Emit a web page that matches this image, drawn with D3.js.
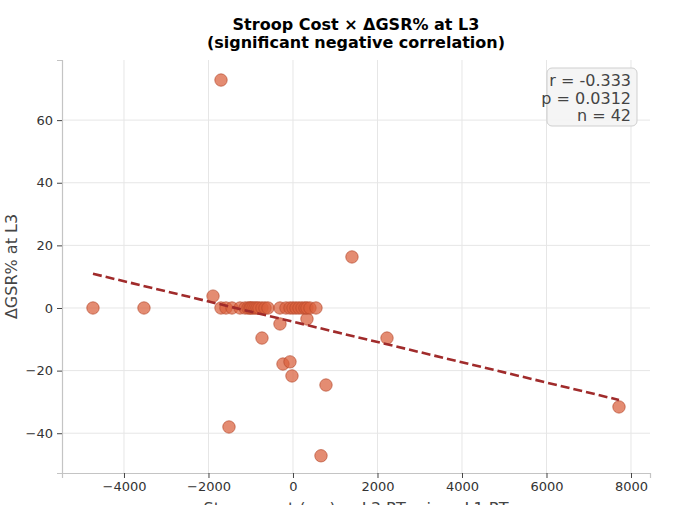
<!DOCTYPE html>
<html>
<head>
<meta charset="utf-8">
<script src="https://cdn.jsdelivr.net/npm/d3@7"></script>
<style>
  body { margin: 0; background: #fff; }
  text { font-family: "DejaVu Sans", sans-serif; }
</style>
</head>
<body>
<script>
// stroop cost (ms) per participant and dGSR% at L3
var stroopCost = [
  -4734, -3527,
  -1893, -1704, -1515, -734, -308, -237, -71, -24, 331, 663, 781, 1396, 2225, 7716,
  -1704, -1586, -1444, -1254, -1136, -1065, -1018, -994, -947, -899, -852, -805, -734, -663, -592,
  -308, -166, -71, 0, 71, 142, 213, 284, 331, 402, 544
];
var gsrChange = [
  0, 0,
  3.8, 72.8, -38, -9.6, -5.1, -17.9, -17.2, -21.7, -3.5, -47.2, -24.6, 16.3, -9.6, -31.6,
  0, 0, 0, 0, 0, 0, 0, 0, 0, 0, 0, 0, 0, 0, 0,
  0, 0, 0, 0, 0, 0, 0, 0, 0, 0, 0
];
var xTicks = [-4000, -2000, 0, 2000, 4000, 6000, 8000];
var yTicks = [-40, -20, 0, 20, 40, 60];
var statLines = ["r = -0.333", "p = 0.0312", "n = 42"];

var data = stroopCost.map(function (d, i) {
    return {x: d, y: gsrChange[i]};
});

var svg = d3.select("body").append("svg").attr("width", 679).attr("height", 505),
    margin = {top: 60, right: 29, bottom: 32, left: 62},
    width = +svg.attr("width") - margin.left - margin.right,
    height = +svg.attr("height") - margin.top - margin.bottom;

var x = d3.scaleLinear().domain([-5467, 8450]).range([0, width]);
var y = d3.scaleLinear().domain([-52.7, 79.2]).range([height, 0]);

var g = svg.append("g")
    .attr("transform", "translate(" + margin.left + "," + margin.top + ")");

// grid
g.selectAll(".vgrid").data(xTicks).enter().append("line")
    .attr("x1", function (d) { return x(d); })
    .attr("x2", function (d) { return x(d); })
    .attr("y1", 0).attr("y2", height)
    .attr("stroke", "#e6e6e6").attr("stroke-width", 1);
g.selectAll(".hgrid").data(yTicks).enter().append("line")
    .attr("y1", function (d) { return y(d); })
    .attr("y2", function (d) { return y(d); })
    .attr("x1", 0).attr("x2", width)
    .attr("stroke", "#e6e6e6").attr("stroke-width", 1);

// axes
var xAxis = g.append("g")
    .attr("transform", "translate(0," + height + ")")
    .call(d3.axisBottom(x).tickValues(xTicks).tickSize(5).tickPadding(4)
        .tickFormat(function (d) { return d3.format("d")(d).replace("-", "\u2212"); }));
var yAxis = g.append("g")
    .call(d3.axisLeft(y).tickValues(yTicks).tickSize(5).tickPadding(4)
        .tickFormat(function (d) { return d3.format("d")(d).replace("-", "\u2212"); }));
[xAxis, yAxis].forEach(function (a) {
    a.select(".domain").attr("stroke", "#c4c4c4").attr("stroke-width", 1.2);
    a.selectAll(".tick line").attr("stroke", "#444");
    a.selectAll(".tick text").attr("fill", "#333").style("font-size", "13px");
});

// regression fit
var mx = d3.mean(data, function (d) { return d.x; }),
    my = d3.mean(data, function (d) { return d.y; });
var sxy = d3.sum(data, function (d) { return (d.x - mx) * (d.y - my); }),
    sxx = d3.sum(data, function (d) { return (d.x - mx) * (d.x - mx); });
var slope = sxy / sxx, intercept = my - slope * mx;
var xr = d3.extent(data, function (d) { return d.x; });

g.selectAll(".pt").data(data).enter().append("circle")
    .attr("class", "pt")
    .attr("cx", function (d) { return x(d.x); })
    .attr("cy", function (d) { return y(d.y); })
    .attr("r", 6.2)
    .attr("fill", "#d9603b")
    .attr("fill-opacity", 0.72)
    .attr("stroke", "#b4472a")
    .attr("stroke-opacity", 0.8)
    .attr("stroke-width", 0.8);

g.append("line")
    .attr("x1", x(xr[0])).attr("y1", y(intercept + slope * xr[0]))
    .attr("x2", x(xr[1])).attr("y2", y(intercept + slope * xr[1]))
    .attr("stroke", "#a02b2b")
    .attr("stroke-width", 2.6)
    .attr("stroke-dasharray", "9,4");

// stats box
var box = g.append("g").attr("transform", "translate(" + (width - 103) + ",8)");
box.append("rect")
    .attr("width", 90).attr("height", 58)
    .attr("rx", 5)
    .attr("fill", "#f4f4f4").attr("fill-opacity", 0.9)
    .attr("stroke", "#cfcfcf");
box.selectAll(".st").data(statLines).enter().append("text")
    .attr("x", 84)
    .attr("y", function (d, i) { return 18 + i * 17.5; })
    .attr("text-anchor", "end")
    .attr("fill", "#444")
    .style("font-size", "16px")
    .text(function (d) { return d; });

// title and labels
svg.append("text")
    .attr("x", margin.left + width / 2).attr("y", 30)
    .attr("text-anchor", "middle")
    .style("font-size", "16px").style("font-weight", "bold")
    .text("Stroop Cost \u00d7 \u0394GSR% at L3");
svg.append("text")
    .attr("x", margin.left + width / 2).attr("y", 48)
    .attr("text-anchor", "middle")
    .style("font-size", "16px").style("font-weight", "bold")
    .text("(significant negative correlation)");

svg.append("text")
    .attr("transform", "translate(17," + (margin.top + height / 2) + ") rotate(-90)")
    .attr("text-anchor", "middle")
    .attr("fill", "#444")
    .style("font-size", "16px")
    .text("\u0394GSR% at L3");

svg.append("text")
    .attr("x", margin.left + width / 2).attr("y", 514)
    .attr("text-anchor", "middle")
    .attr("fill", "#444")
    .style("font-size", "16px")
    .text("Stroop cost (ms) \u2014 L3 RT minus L1 RT");
</script>
</body>
</html>
